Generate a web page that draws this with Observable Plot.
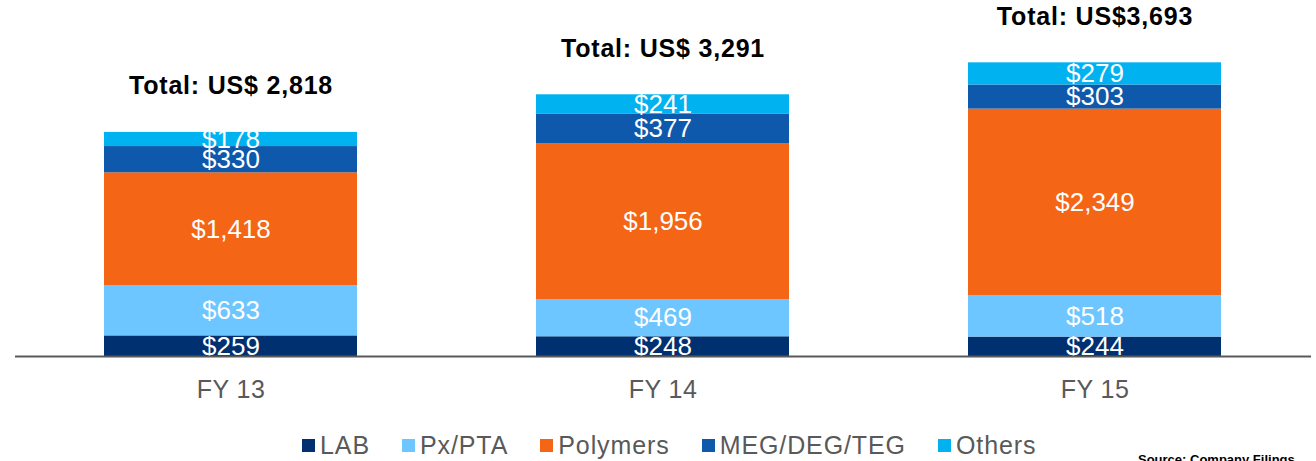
<!DOCTYPE html>
<html><head><meta charset="utf-8">
<script src="https://cdn.jsdelivr.net/npm/d3@7"></script>
<script src="https://cdn.jsdelivr.net/npm/@observablehq/plot@0.6"></script>
<style>
body{margin:0;background:#fff;font-family:"Liberation Sans",Arial,sans-serif;}
#wrap{position:relative;width:1316px;height:461px;overflow:hidden;background:#fff;}
#legend{position:absolute;left:302px;top:430px;height:30px;display:flex;align-items:center;font-size:25px;letter-spacing:0.9px;color:#595959;white-space:nowrap;}
#legend .item{display:flex;align-items:center;margin-right:32px;}
#legend .sw{width:13px;height:13px;margin-right:5px;}
#source{position:absolute;left:1138px;top:453px;font-size:13px;line-height:1;font-weight:bold;color:#000;white-space:nowrap;}
g[aria-description="totals"] text{letter-spacing:0.8px;}
g[aria-label="x-axis tick label"] text{letter-spacing:0.5px;}
</style></head><body>
<div id="wrap"><div id="chart"></div><div id="legend"></div><div id="source">Source: Company Filings</div></div>
<script>
const years = ["FY 13", "FY 14", "FY 15"];
const segments = ["LAB", "Px/PTA", "Polymers", "MEG/DEG/TEG", "Others"];
const colors = ["#00306F", "#6DC6FF", "#F46515", "#0E59AB", "#00B2F0"];
const lab = [259, 248, 244];
const pxpta = [633, 469, 518];
const polymers = [1418, 1956, 2349];
const meg = [330, 377, 303];
const others = [178, 241, 279];
const totals = [2818, 3291, 3693];
const totalLabels = ["Total: US$ 2,818", "Total: US$ 3,291", "Total: US$3,693"];

const series = [lab, pxpta, polymers, meg, others];
const rows = [];
segments.forEach((s, i) => years.forEach((y, j) => rows.push({year: y, segment: s, value: series[i][j]})));
const totalRows = years.map((y, i) => ({year: y, total: totals[i], label: totalLabels[i]}));
const fmt = d3.format(",");

const plot = Plot.plot({
  width: 1316, height: 415,
  marginLeft: 15, marginRight: 5, marginTop: 22, marginBottom: 59,
  style: {fontFamily: "Liberation Sans, Arial, sans-serif", background: "#fff", overflow: "visible"},
  x: {domain: years, paddingInner: 0.414, paddingOuter: 0.207, label: null},
  y: {domain: [0, 4200], axis: null},
  color: {domain: segments, range: colors},
  marks: [
    Plot.barY(rows, {x: "year", y: "value", fill: "segment", z: "segment"}),
    Plot.text(rows, Plot.stackY({x: "year", y: "value", z: "segment", text: d => "$" + fmt(d.value), fill: "white", fontSize: 26})),
    Plot.ruleY([0], {stroke: "#595959", strokeWidth: 2}),
    Plot.text(totalRows, {x: "year", y: "total", text: "label", dy: -46, fontSize: 25, fontWeight: "bold", fill: "#000", ariaDescription: "totals"}),
    Plot.axisX({tickSize: 0, tickPadding: 24, fontSize: 25, fill: "#595959", label: null})
  ]
});
document.getElementById("chart").appendChild(plot);

const legend = document.getElementById("legend");
segments.forEach((s, i) => {
  const item = document.createElement("div");
  item.className = "item";
  const sw = document.createElement("span");
  sw.className = "sw";
  sw.style.background = colors[i];
  const t = document.createElement("span");
  t.textContent = s;
  item.appendChild(sw); item.appendChild(t);
  legend.appendChild(item);
});
</script>
</body></html>
